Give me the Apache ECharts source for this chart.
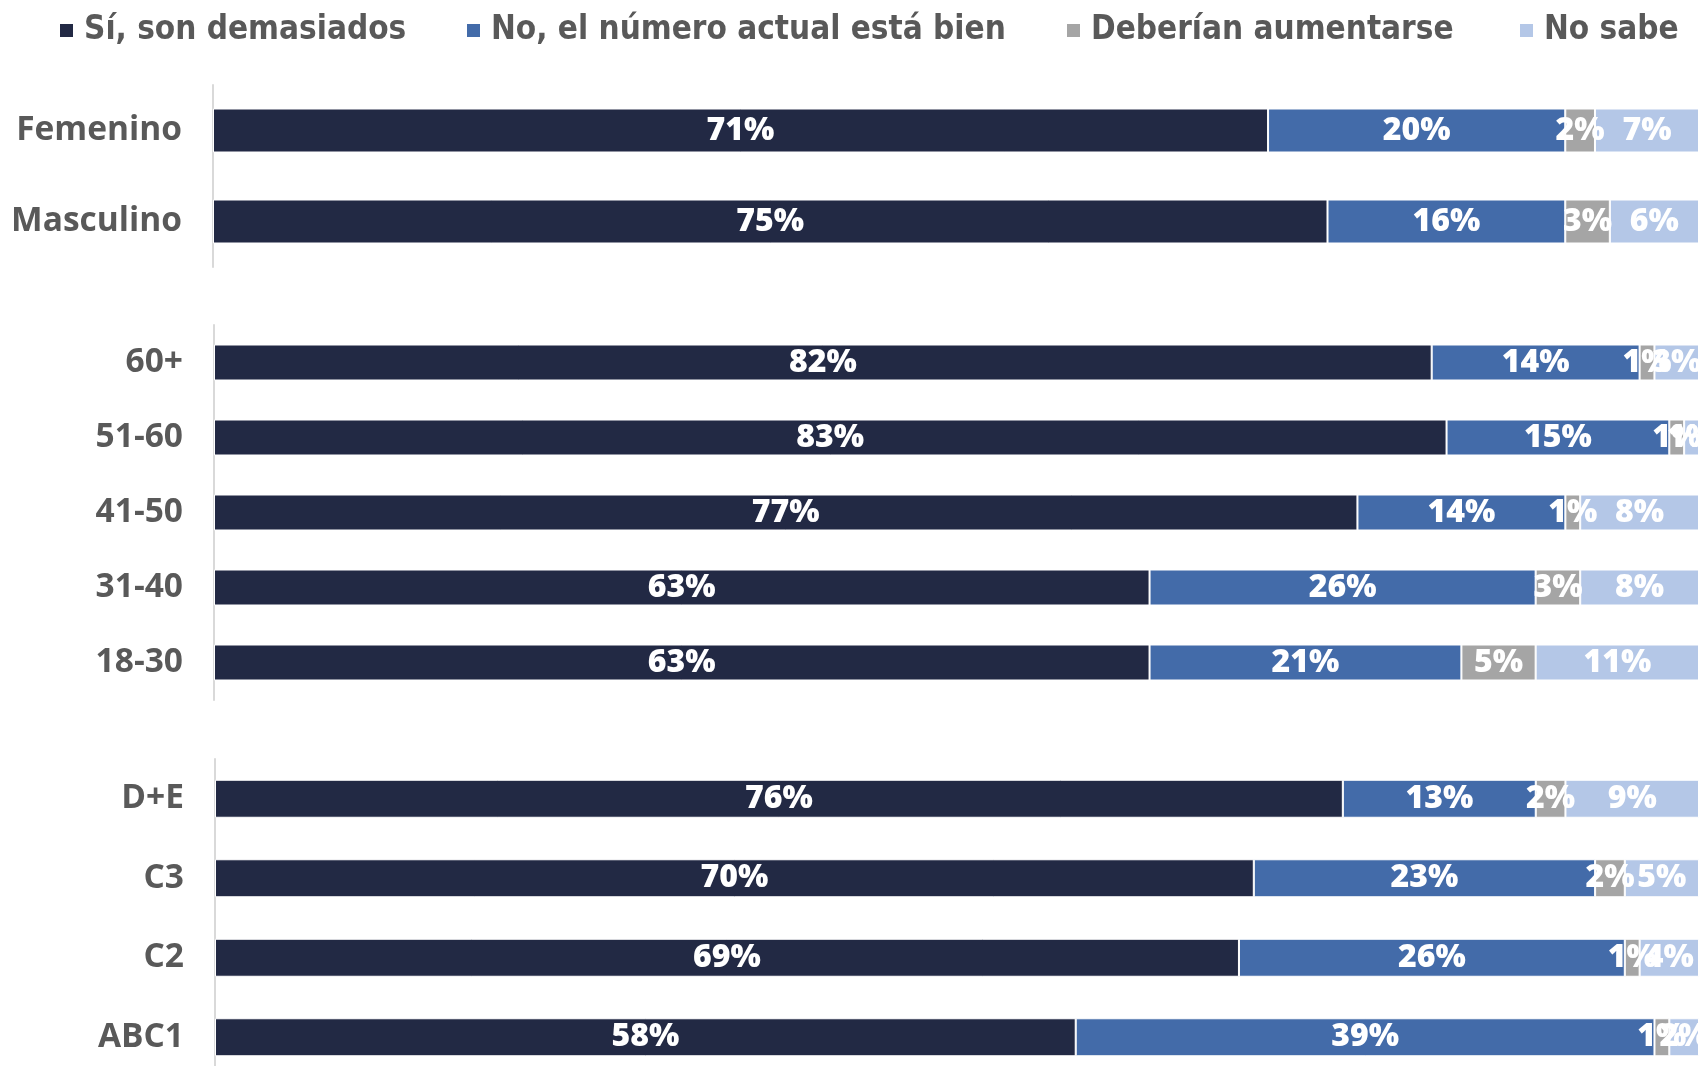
<!DOCTYPE html>
<html><head><meta charset="utf-8">
<script src="https://cdn.jsdelivr.net/npm/echarts@6/dist/echarts.min.js"></script>
<style>html,body{margin:0;padding:0;background:#fff}#c{width:1703px;height:1066px}</style>
</head><body><div id="c"></div>
<script>
const seriesNames = ['Sí, son demasiados', 'No, el número actual está bien', 'Deberían aumentarse', 'No sabe'];
const colors = ['#222944', '#436BA9', '#A5A5A5', '#B4C7E7'];

const genderCats = ['Femenino', 'Masculino'];
const genderSi = [71, 75];
const genderNo = [20, 16];
const genderAum = [2, 3];
const genderNs = [7, 6];

const ageCats = ['60+', '51-60', '41-50', '31-40', '18-30'];
const ageSi = [82, 83, 77, 63, 63];
const ageNo = [14, 15, 14, 26, 21];
const ageAum = [1, 1, 1, 3, 5];
const ageNs = [3, 1, 8, 8, 11];

const sesCats = ['D+E', 'C3', 'C2', 'ABC1'];
const sesSi = [76, 70, 69, 58];
const sesNo = [13, 23, 26, 39];
const sesAum = [2, 2, 1, 1];
const sesNs = [9, 5, 4, 2];

const panels = [
  {cats: genderCats, vals: [genderSi, genderNo, genderAum, genderNs], grid: {left: 213, right: 4, top: 85, height: 182}, bw: 44},
  {cats: ageCats, vals: [ageSi, ageNo, ageAum, ageNs], grid: {left: 214, right: 4, top: 325, height: 375}, bw: 36},
  {cats: sesCats, vals: [sesSi, sesNo, sesAum, sesNs], grid: {left: 215, right: 4, top: 759, height: 318}, bw: 38}
];

const labelFont = '"Open Sans", sans-serif';
const grids = [], xAxes = [], yAxes = [], series = [];
panels.forEach((p, i) => {
  grids.push(Object.assign({outerBoundsMode: 'none', containLabel: false}, p.grid));
  xAxes.push({type: 'value', gridIndex: i, min: 0, max: 100, show: false});
  yAxes.push({
    type: 'category', gridIndex: i, data: p.cats, inverse: true,
    axisLine: {show: true, lineStyle: {color: '#D9D9D9', width: 2}},
    axisTick: {show: false},
    axisLabel: {color: '#595959', fontFamily: labelFont, fontWeight: 'bold', fontSize: 33.5, margin: 31}
  });
  p.vals.forEach((v, k) => {
    series.push({
      name: seriesNames[k], type: 'bar', stack: 'p' + i,
      xAxisIndex: i, yAxisIndex: i, barWidth: p.bw, data: v,
      itemStyle: {color: colors[k], borderColor: '#fff', borderWidth: 1},
      label: {show: true, position: 'inside', formatter: '{c}%', color: '#fff',
              fontFamily: labelFont, fontWeight: 800, fontSize: 32},
      emphasis: {disabled: true}
    });
  });
});

const legendLefts = [53, 460, 1060, 1513];
const legends = seriesNames.map((n, k) => ({
  data: [n], left: legendLefts[k], top: 9, icon: 'rect', itemWidth: 15, itemHeight: 15,
  textStyle: {color: '#595959', fontFamily: '"Liberation Sans Narrow", "DejaVu Sans Condensed", sans-serif',
              fontWeight: 'bold', fontSize: 33, padding: [0, 0, 0, 5]}
}));

const chart = echarts.init(document.getElementById('c'));
chart.setOption({
  animation: false,
  color: colors,
  legend: legends,
  grid: grids, xAxis: xAxes, yAxis: yAxes, series: series
});
</script></body></html>
